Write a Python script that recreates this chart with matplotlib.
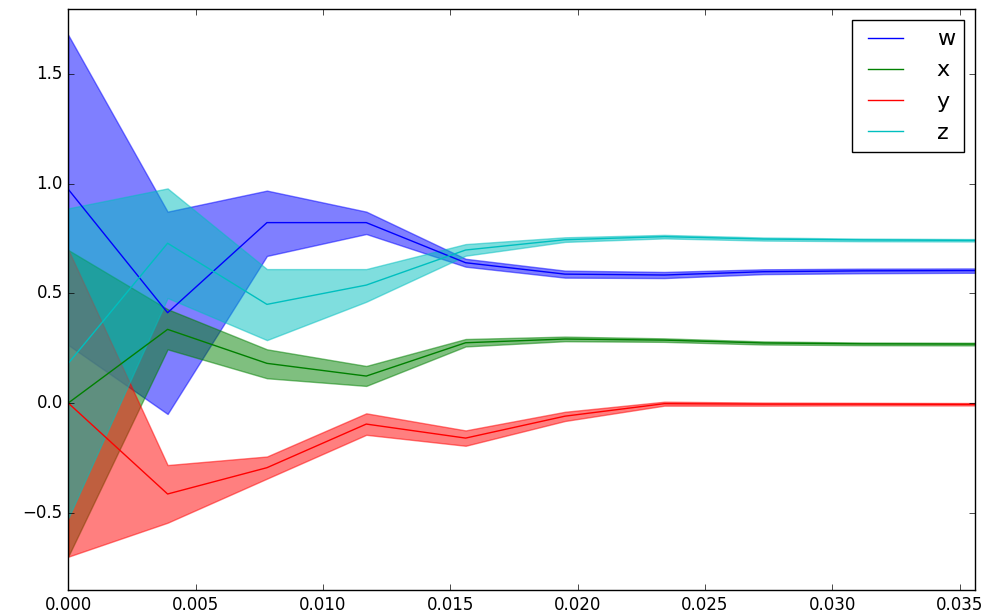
import matplotlib
matplotlib.use("Agg")
import matplotlib.pyplot as plt

plt.style.use("classic")

# x positions of the samples
x = [0.0, 0.0039, 0.0078, 0.0117, 0.0156, 0.0195, 0.0234, 0.0273, 0.0312, 0.0352, 0.0391]

# w (blue)
w_mean = [0.975, 0.412, 0.823, 0.823, 0.640, 0.588, 0.584, 0.599, 0.603, 0.604, 0.604]
w_lo = [0.265, -0.050, 0.671, 0.771, 0.622, 0.572, 0.570, 0.588, 0.592, 0.594, 0.594]
w_hi = [1.679, 0.873, 0.969, 0.873, 0.658, 0.604, 0.598, 0.610, 0.613, 0.614, 0.614]

# x (green)
x_mean = [0.0, 0.336, 0.181, 0.123, 0.275, 0.292, 0.287, 0.274, 0.270, 0.269, 0.269]
x_lo = [-0.700, 0.245, 0.113, 0.078, 0.258, 0.282, 0.279, 0.267, 0.264, 0.263, 0.263]
x_hi = [0.698, 0.428, 0.245, 0.169, 0.292, 0.303, 0.295, 0.281, 0.276, 0.275, 0.275]

# y (red)
y_mean = [0.0, -0.415, -0.295, -0.096, -0.160, -0.060, -0.003, -0.005, -0.005, -0.006, -0.006]
y_lo = [-0.701, -0.546, -0.345, -0.145, -0.195, -0.082, -0.012, -0.012, -0.011, -0.011, -0.011]
y_hi = [0.700, -0.283, -0.244, -0.047, -0.125, -0.040, 0.006, 0.002, 0.001, 0.000, 0.000]

# z (cyan)
z_mean = [0.181, 0.729, 0.450, 0.538, 0.698, 0.745, 0.759, 0.748, 0.744, 0.742, 0.742]
z_lo = [-0.526, 0.479, 0.287, 0.462, 0.672, 0.735, 0.751, 0.741, 0.738, 0.737, 0.737]
z_hi = [0.888, 0.979, 0.611, 0.611, 0.725, 0.756, 0.767, 0.755, 0.750, 0.748, 0.748]

series = [
    ("w", "b", w_mean, w_lo, w_hi),
    ("x", "g", x_mean, x_lo, x_hi),
    ("y", "r", y_mean, y_lo, y_hi),
    ("z", "c", z_mean, z_lo, z_hi),
]

fig = plt.figure(figsize=(9.98, 6.13), dpi=100, facecolor="white")
ax = fig.add_axes([0.0684, 0.0375, 0.9086, 0.9473])

for name, col, mean, lo, hi in series:
    ax.plot(x, mean, color=col, label=name)
    ax.fill_between(x, lo, hi, color=col, alpha=0.5)

ax.set_xlim(0, 0.0356)
ax.set_ylim(-0.853, 1.796)
ax.set_xticks([0.0, 0.005, 0.010, 0.015, 0.020, 0.025, 0.030, 0.035])
ax.set_yticks([-0.5, 0.0, 0.5, 1.0, 1.5])
ax.legend(loc="upper right", fontsize=16, handlelength=2.2, handletextpad=1.2)

fig.savefig("out.png", dpi=100, facecolor="white")
